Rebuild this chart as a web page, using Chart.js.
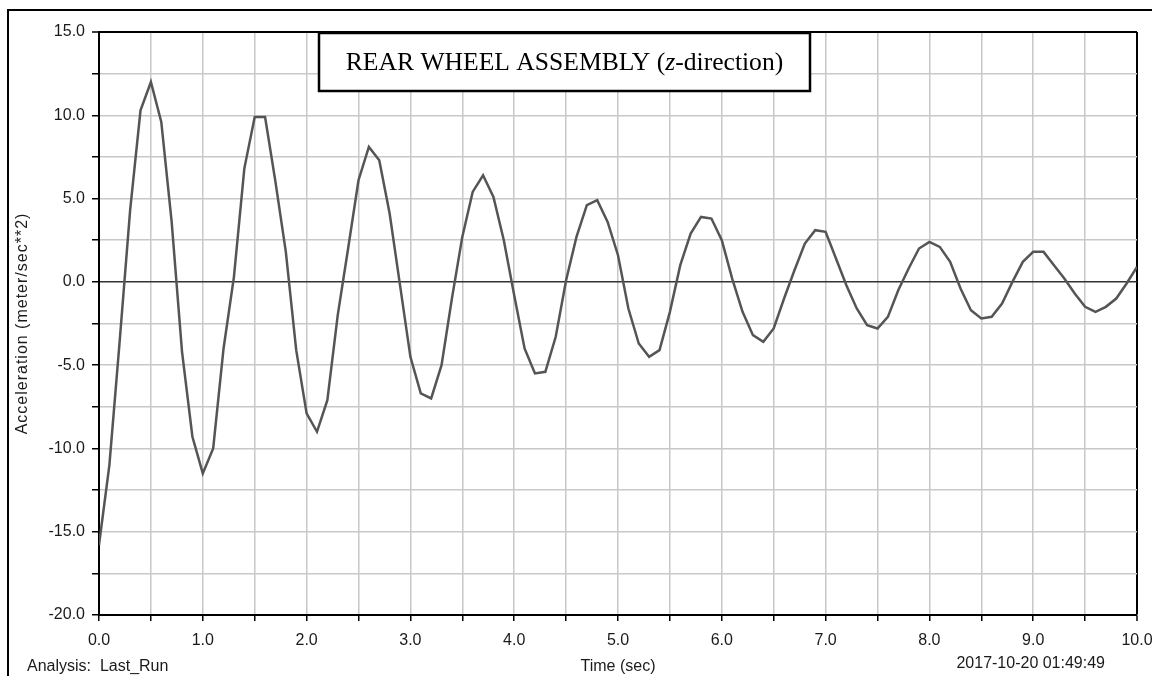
<!DOCTYPE html>
<html>
<head>
<meta charset="utf-8">
<title>Rear wheel assembly acceleration</title>
<script src="https://cdn.jsdelivr.net/npm/chart.js@4.4.1/dist/chart.umd.min.js"></script>
<style>
  html, body { margin: 0; padding: 0; background: #fff; }
  #wrap { width: 1152px; height: 676px; position: relative; }
</style>
</head>
<body>
<div id="wrap"><canvas id="accelChart"></canvas></div>
<script>
// Simulation output, sampled every 0.1 sec
const timeSec = [
  0.0, 0.1, 0.2, 0.3, 0.4, 0.5, 0.6, 0.7, 0.8, 0.9,
  1.0, 1.1, 1.2, 1.3, 1.4, 1.5, 1.6, 1.7, 1.8, 1.9,
  2.0, 2.1, 2.2, 2.3, 2.4, 2.5, 2.6, 2.7, 2.8, 2.9,
  3.0, 3.1, 3.2, 3.3, 3.4, 3.5, 3.6, 3.7, 3.8, 3.9,
  4.0, 4.1, 4.2, 4.3, 4.4, 4.5, 4.6, 4.7, 4.8, 4.9,
  5.0, 5.1, 5.2, 5.3, 5.4, 5.5, 5.6, 5.7, 5.8, 5.9,
  6.0, 6.1, 6.2, 6.3, 6.4, 6.5, 6.6, 6.7, 6.8, 6.9,
  7.0, 7.1, 7.2, 7.3, 7.4, 7.5, 7.6, 7.7, 7.8, 7.9,
  8.0, 8.1, 8.2, 8.3, 8.4, 8.5, 8.6, 8.7, 8.8, 8.9,
  9.0, 9.1, 9.2, 9.3, 9.4, 9.5, 9.6, 9.7, 9.8, 9.9,
  10.0
];

// z-direction acceleration (meter/sec**2)
const accelZ = [
  -15.8, -11.0, -3.5,  4.3, 10.3, 12.0,  9.6,  3.6, -4.2, -9.3,
  -11.5, -10.0, -4.0,  0.3,  6.8,  9.9,  9.9,  6.0,  1.8, -4.1,
   -7.9,  -9.0, -7.1, -2.0,  2.0,  6.1,  8.1,  7.3,  4.1, -0.2,
   -4.5,  -6.7, -7.0, -5.0, -1.0,  2.7,  5.4,  6.4,  5.1,  2.5,
   -0.8,  -4.0, -5.5, -5.4, -3.3,  0.1,  2.7,  4.6,  4.9,  3.6,
    1.6,  -1.6, -3.7, -4.5, -4.1, -1.8,  1.0,  2.9,  3.9,  3.8,
    2.5,   0.2, -1.8, -3.2, -3.6, -2.8, -1.0,  0.7,  2.3,  3.1,
    3.0,   1.4, -0.2, -1.6, -2.6, -2.8, -2.1, -0.5,  0.8,  2.0,
    2.4,   2.1,  1.2, -0.4, -1.7, -2.2, -2.1, -1.3,  0.0,  1.2,
    1.8,   1.8,  1.0,  0.2, -0.7, -1.5, -1.8, -1.5, -1.0, -0.1,
    0.9
];

const xRange = [0, 10];
const yRange = [-20, 15];
const xStep = 0.5;
const yStep = 2.5;

const chartTitle = ['REAR WHEEL ASSEMBLY (', 'z', '-direction)'];
const yTitle = 'Acceleration (meter/sec**2)';
const xTitle = 'Time (sec)';
const runName = 'Analysis:  Last_Run';
const stamp = '2017-10-20 01:49:49';

const sans = '"Liberation Sans", Arial, sans-serif';
const serif = '"Liberation Serif", "Times New Roman", serif';
const textColor = '#1a1a1a';
const gridGray = '#c8c8c8';

const points = timeSec.map((t, i) => ({ x: t, y: accelZ[i] }));

// frame, title box and footer text
const decor = {
  id: 'decor',
  beforeDraw(chart) {
    const { ctx, width, height } = chart;
    ctx.save();
    ctx.fillStyle = '#fff';
    ctx.fillRect(0, 0, width, height);
    ctx.strokeStyle = '#000';
    ctx.lineWidth = 2;
    ctx.strokeRect(8, 10, width + 40, height + 40);
    ctx.restore();
  },
  afterDraw(chart) {
    const { ctx, chartArea: a } = chart;
    ctx.save();

    // boxed title
    const bx = a.left + 220, by = a.top + 1, bw = 491, bh = 58;
    ctx.fillStyle = '#fff';
    ctx.fillRect(bx, by, bw, bh);
    ctx.strokeStyle = '#000';
    ctx.lineWidth = 2.5;
    ctx.strokeRect(bx, by, bw, bh);

    const fonts = ['25.6px ' + serif, 'italic 25.6px ' + serif, '25.6px ' + serif];
    let total = 0;
    const widths = chartTitle.map((s, i) => {
      ctx.font = fonts[i];
      const w = ctx.measureText(s).width;
      total += w;
      return w;
    });
    let tx = bx + bw / 2 - total / 2;
    ctx.fillStyle = '#000';
    ctx.textBaseline = 'middle';
    ctx.textAlign = 'left';
    chartTitle.forEach((s, i) => {
      ctx.font = fonts[i];
      ctx.fillText(s, tx, by + bh / 2 + 1);
      tx += widths[i];
    });

    // axis titles
    ctx.fillStyle = textColor;
    ctx.font = '16px ' + sans;
    ctx.textAlign = 'center';
    ctx.save();
    ctx.translate(23, (a.top + a.bottom) / 2);
    ctx.rotate(-Math.PI / 2);
    ctx.letterSpacing = '1px';
    ctx.fillText(yTitle, 0, 0);
    ctx.restore();
    ctx.fillText(xTitle, (a.left + a.right) / 2, 667);

    ctx.textAlign = 'left';
    ctx.fillText(runName, 27, 667);
    ctx.textAlign = 'right';
    ctx.fillText(stamp, 1105, 664);
    ctx.restore();
  }
};

new Chart(document.getElementById('accelChart'), {
  type: 'line',
  data: {
    datasets: [{
      data: points,
      borderColor: '#555',
      borderWidth: 2.5,
      pointRadius: 0,
      tension: 0,
      fill: false
    }]
  },
  options: {
    responsive: true,
    maintainAspectRatio: false,
    devicePixelRatio: 1,
    animation: false,
    events: [],
    layout: { padding: { left: 0, top: 32, right: 15, bottom: 0 } },
    plugins: {
      legend: { display: false },
      tooltip: { enabled: false }
    },
    scales: {
      x: {
        type: 'linear',
        min: xRange[0],
        max: xRange[1],
        afterFit(scale) {
          scale.height = 61;
          scale.paddingLeft = 0;
          scale.paddingRight = 0;
        },
        ticks: {
          stepSize: xStep,
          padding: 10,
          maxRotation: 0,
          autoSkip: false,
          color: textColor,
          font: { family: sans, size: 16 },
          callback: v => (Math.abs(v % 1) < 1e-9 ? v.toFixed(1) : '')
        },
        grid: {
          color: c => (c.tick && c.tick.value === xRange[1] ? '#000' : gridGray),
          lineWidth: c => (c.tick && c.tick.value === xRange[1] ? 2 : 1.5),
          tickColor: '#000',
          tickWidth: 1.5,
          tickLength: 6
        },
        border: { color: '#000', width: 2 }
      },
      y: {
        min: yRange[0],
        max: yRange[1],
        afterFit(scale) {
          scale.width = 99;
          scale.paddingTop = 0;
          scale.paddingBottom = 0;
        },
        ticks: {
          stepSize: yStep,
          padding: 7,
          autoSkip: false,
          color: textColor,
          font: { family: sans, size: 16 },
          callback: v => (Math.abs(v % 5) < 1e-9 ? v.toFixed(1) : '')
        },
        grid: {
          color: c => {
            if (!c.tick) return gridGray;
            if (c.tick.value === yRange[1]) return '#000';
            if (c.tick.value === 0) return '#333';
            return gridGray;
          },
          lineWidth: c => (c.tick && c.tick.value === yRange[1] ? 2 : 1.5),
          tickColor: '#000',
          tickWidth: 1.5,
          tickLength: 7
        },
        border: { color: '#000', width: 2 }
      }
    }
  },
  plugins: [decor]
});
</script>
</body>
</html>
